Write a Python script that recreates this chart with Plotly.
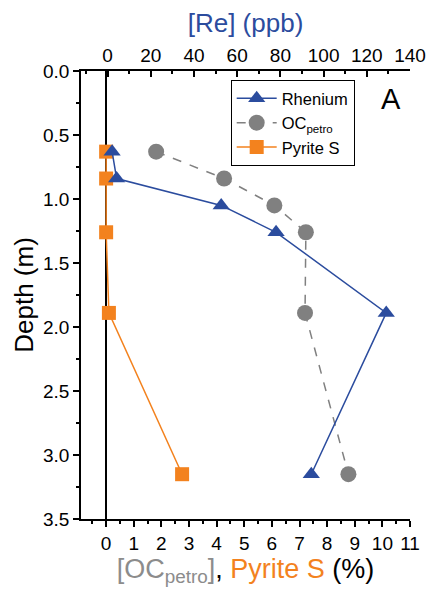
import plotly.graph_objects as go

# Data
depth_re = [0.63, 0.84, 1.05, 1.26, 1.89, 3.15]
re_ppb = [2.1, 4.2, 52.6, 78.0, 129.0, 94.3]

depth_oc = [0.63, 0.84, 1.05, 1.26, 1.89, 3.15]
oc_petro = [1.81, 4.27, 6.09, 7.23, 7.2, 8.77]

depth_py = [0.63, 0.84, 1.26, 1.89, 3.15]
pyrite_s = [0.0, 0.0, 0.0, 0.1, 2.75]

BLUE = "#2B4C9E"
GREY = "#808080"
ORANGE = "#F3821E"
FONT = "Liberation Sans, Arial, sans-serif"

fig = go.Figure()

fig.add_trace(go.Scatter(
    x=pyrite_s, y=depth_py, name="Pyrite S", mode="lines+markers",
    line=dict(color=ORANGE, width=1.5),
    marker=dict(symbol="square", size=14, color=ORANGE),
    xaxis="x", yaxis="y", legendrank=3,
))
fig.add_trace(go.Scatter(
    x=oc_petro, y=depth_oc, name="OC<sub>petro</sub>", mode="lines+markers",
    line=dict(color=GREY, width=1.5, dash="dash"),
    marker=dict(symbol="circle", size=16, color=GREY),
    xaxis="x", yaxis="y", legendrank=2,
))
fig.add_trace(go.Scatter(
    x=re_ppb, y=depth_re, name="Rhenium", mode="lines+markers",
    line=dict(color=BLUE, width=1.5),
    marker=dict(symbol="triangle-up", size=15, color=BLUE),
    xaxis="x2", yaxis="y", legendrank=1,
))

axis_common = dict(
    showline=True, linecolor="black", linewidth=1.5,
    showgrid=False, tickcolor="black", tickwidth=1.5,
    tickfont=dict(family=FONT, size=19, color="black"),
)

fig.update_layout(
    width=438, height=596,
    margin=dict(l=81, r=18, t=71, b=77),
    paper_bgcolor="white", plot_bgcolor="white",
    font=dict(family=FONT, color="black"),
    xaxis=dict(
        **axis_common,
        range=[-0.91, 11], tickmode="array", tickvals=list(range(0, 12)),
        ticks="outside", ticklen=6,
        minor=dict(ticks="outside", ticklen=3, dtick=0.5, tick0=0, tickcolor="black", tickwidth=1.5),
        zeroline=True, zerolinecolor="black", zerolinewidth=2,
        title=dict(
            text="<span style='color:#8c8c8c'>[OC<sub>petro</sub>]</span>, "
                 "<span style='color:#F3821E'>Pyrite S</span> (%)",
            font=dict(family=FONT, size=27, color="black"), standoff=5,
        ),
    ),
    xaxis2=dict(
        **axis_common,
        overlaying="x", side="top",
        range=[-12.3, 140], tickmode="array", tickvals=list(range(0, 141, 20)),
        ticks="inside", ticklen=6,
        minor=dict(ticks="inside", ticklen=3, dtick=10, tick0=0, tickcolor="black", tickwidth=1.5),
        zeroline=False,
        title=dict(text="[Re] (ppb)", font=dict(family=FONT, size=26, color=BLUE), standoff=5),
    ),
    yaxis=dict(
        **axis_common,
        range=[3.5, 0], tickmode="array", tickvals=[0, 0.5, 1, 1.5, 2, 2.5, 3, 3.5],
        tickformat=".1f", ticks="outside", ticklen=6,
        minor=dict(ticks="outside", ticklen=3, dtick=0.25, tick0=0, tickcolor="black", tickwidth=1.5),
        zeroline=False,
        title=dict(text="Depth (m)", font=dict(family=FONT, size=26, color="black"), standoff=2),
    ),
    yaxis2=dict(
        overlaying="y", side="right", range=[3.5, 0],
        showline=True, linecolor="black", linewidth=1.5, showgrid=False,
        ticks="inside", ticklen=6, tickcolor="black", tickwidth=1.5,
        tickmode="array", tickvals=[0, 0.5, 1, 1.5, 2, 2.5, 3, 3.5],
        showticklabels=False, zeroline=False,
        minor=dict(ticks="inside", ticklen=3, dtick=0.25, tick0=0, tickcolor="black", tickwidth=1.5),
    ),
    legend=dict(
        x=0.455, y=0.98, xanchor="left", yanchor="top",
        bordercolor="black", borderwidth=1, bgcolor="white",
        font=dict(family=FONT, size=16.5, color="black"),
        tracegroupgap=0, itemwidth=40,
    ),
    annotations=[dict(
        text="A", x=0.943, y=0.937, xref="paper", yref="paper",
        showarrow=False, font=dict(family=FONT, size=29, color="black"),
        xanchor="center", yanchor="middle",
    )],
    showlegend=True,
)

fig.write_html("out.html")
